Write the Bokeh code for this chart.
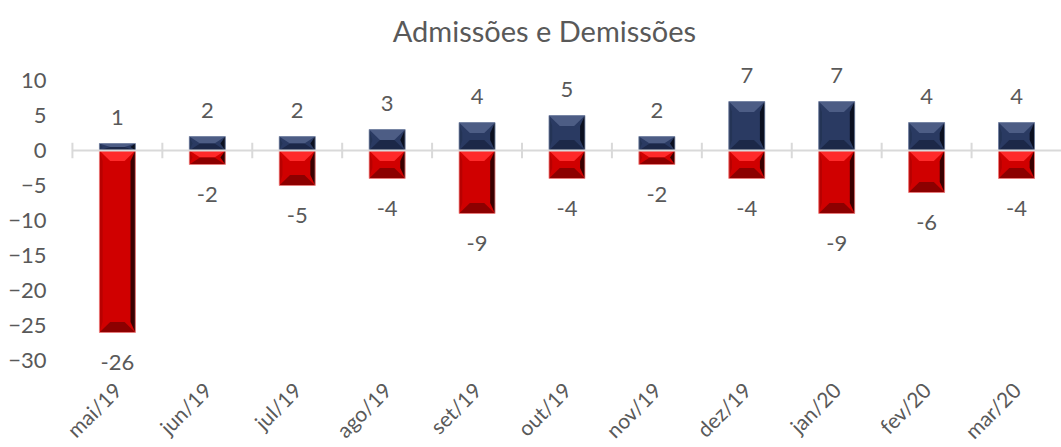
import math
from bokeh.plotting import figure
from bokeh.models import Range1d, FixedTicker, ColumnDataSource, Label, LabelSet
from bokeh.core.properties import value
from bokeh.embed import file_html
from bokeh.resources import INLINE

months = ["mai/19", "jun/19", "jul/19", "ago/19", "set/19", "out/19",
          "nov/19", "dez/19", "jan/20", "fev/20", "mar/20"]
admissoes = [1, 2, 2, 3, 4, 5, 2, 7, 7, 4, 4]
demissoes = [-26, -2, -5, -4, -9, -4, -2, -4, -9, -6, -4]
y_ticks = [-30, -25, -20, -15, -10, -5, 0, 5, 10]

FONT = "Lato"
TXT = "#595959"
n = len(months)
pos = list(range(n))          # category positions

# the frame covers the whole canvas; axes are pinned inside it so nothing is clipped
p = figure(width=1061, height=447, output_backend="svg", toolbar_location=None,
           x_range=Range1d(-1.3, n - 0.5), y_range=Range1d(-42.43, 21.43),
           min_border_left=0, min_border_right=0, min_border_top=0, min_border_bottom=0)
p.outline_line_color = None
p.xgrid.grid_line_color = None
p.ygrid.grid_line_color = None
p.background_fill_color = "white"

p.add_layout(Label(x=4.75, y=17.15, text="Admissões e Demissões", text_align="center",
                   text_baseline="alphabetic", text_font=FONT,
                   text_font_size="29px", text_color=TXT))

# axes
p.yaxis.fixed_location = -0.5
p.yaxis.ticker = FixedTicker(ticks=y_ticks)
p.yaxis.axis_line_color = None
p.yaxis.major_tick_line_color = None
p.yaxis.minor_tick_line_color = None
p.yaxis.major_label_text_font = FONT
p.yaxis.major_label_text_font_size = "22px"
p.yaxis.major_label_text_color = TXT
p.yaxis.major_label_standoff = 20

p.xaxis.fixed_location = -32.2
p.xaxis.ticker = FixedTicker(ticks=pos)
p.xaxis.major_label_overrides = {i: m for i, m in zip(pos, months)}
p.xaxis.axis_line_color = None
p.xaxis.major_tick_line_color = None
p.xaxis.minor_tick_line_color = None
p.xaxis.major_label_orientation = math.pi / 4
p.xaxis.major_label_text_font = FONT
p.xaxis.major_label_text_font_size = "21px"
p.xaxis.major_label_text_color = TXT
p.xaxis.major_label_standoff = 4

BW = 0.4
BH = 0.12   # horizontal bevel (category units)
BV = 1.5    # vertical bevel (value units)

styles = {
    "pos": dict(base="#2a3a62", top="#4d5d85", bottom="#1c2848", right="#0b1020",
                left="#243456", outline="#7a88a8"),
    "neg": dict(base="#d00000", top="#ff2a2a", bottom="#8c0000", right="#3a0000",
                left="#b80000", outline="#f08c8c"),
}

def draw_bars(vals, st):
    x0 = [c - BW / 2 for c in pos]
    x1 = [c + BW / 2 for c in pos]
    yb = [min(0, v) for v in vals]
    yt = [max(0, v) for v in vals]
    bv = [min(BV, abs(v) / 2) for v in vals]
    p.quad(left=x0, right=x1, bottom=yb, top=yt, fill_color=st["base"], line_color=None)
    top_xs, top_ys, bot_xs, bot_ys, r_xs, r_ys, l_xs, l_ys = [], [], [], [], [], [], [], []
    for a, b, lo, hi, d in zip(x0, x1, yb, yt, bv):
        top_xs.append([a, b, b - BH, a + BH]); top_ys.append([hi, hi, hi - d, hi - d])
        bot_xs.append([a, b, b - BH, a + BH]); bot_ys.append([lo, lo, lo + d, lo + d])
        r_xs.append([b, b, b - BH * 0.45, b - BH * 0.45]); r_ys.append([hi, lo, lo + d, hi - d])
        l_xs.append([a, a, a + BH * 0.3, a + BH * 0.3]); l_ys.append([hi, lo, lo + d, hi - d])
    p.patches(l_xs, l_ys, fill_color=st["left"], line_color=None)
    p.patches(r_xs, r_ys, fill_color=st["right"], line_color=None)
    p.patches(top_xs, top_ys, fill_color=st["top"], line_color=None)
    p.patches(bot_xs, bot_ys, fill_color=st["bottom"], line_color=None)
    p.quad(left=x0, right=x1, bottom=yb, top=yt, fill_color=None,
           line_color=st["outline"], line_width=1, line_alpha=0.8)

draw_bars(admissoes, styles["pos"])
draw_bars(demissoes, styles["neg"])

# zero axis line with ticks between categories
bounds = [c - 0.5 for c in pos]
p.segment(x0=[-0.5], y0=[0], x1=[n - 0.5], y1=[0], line_color="#d9d9d9", line_width=2)
p.segment(x0=bounds, y0=[-1.1] * n, x1=bounds, y1=[1.1] * n,
          line_color="#d9d9d9", line_width=2)

# data labels
src_pos = ColumnDataSource(dict(x=pos, y=admissoes, t=[str(v) for v in admissoes]))
src_neg = ColumnDataSource(dict(x=pos, y=demissoes, t=[str(v) for v in demissoes]))
p.add_layout(LabelSet(x="x", y="y", text="t", source=src_pos, text_align="center",
                      text_baseline="middle", y_offset=26, text_font=value(FONT),
                      text_font_size=value("22px"), text_color=value(TXT)))
p.add_layout(LabelSet(x="x", y="y", text="t", source=src_neg, text_align="center",
                      text_baseline="middle", y_offset=-30, text_font=value(FONT),
                      text_font_size=value("22px"), text_color=value(TXT)))

open("out.html", "w").write(file_html(p, INLINE))
